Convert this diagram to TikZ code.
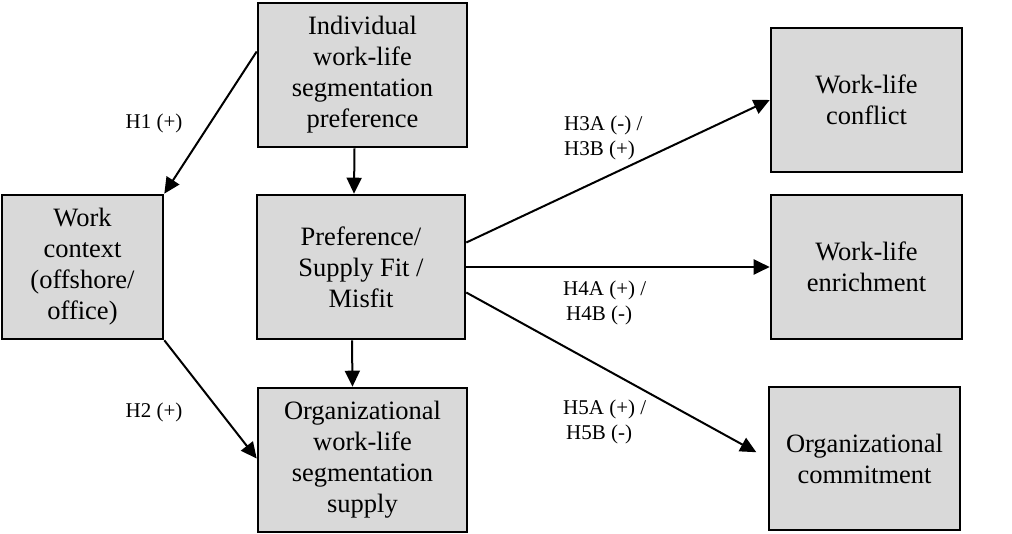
\documentclass[tikz,border=0pt]{standalone}
\usepackage{fontspec}
\setmainfont{Liberation Serif}
\usetikzlibrary{arrows.meta,calc}
\definecolor{boxgray}{HTML}{D9D9D9}
\tikzset{
  box/.style={draw=black, line width=2.6pt, fill=boxgray, align=center, inner sep=0pt,
    font=\fontsize{26.5}{31}\selectfont},
  conn/.style={line width=2pt, -{Triangle[length=16pt,width=15pt]}},
  lbl/.style={inner sep=0pt, align=left, font=\fontsize{21}{25}\selectfont}
}
\begin{document}
\begin{tikzpicture}[x=1pt,y=-1pt]
\useasboundingbox (0,0) rectangle (1012,534);
\node[box, minimum width=209pt, minimum height=144pt] (ind) at (362.5,75) {Individual\\work-life\\segmentation\\preference};
\node[box, minimum width=161pt, minimum height=144pt] (ctx) at (82.5,267) {Work\\context\\(offshore/\\office)};
\node[box, minimum width=208pt, minimum height=144pt] (pref) at (361,267) {Preference/\\Supply Fit /\\Misfit};
\node[box, minimum width=209pt, minimum height=144pt] (org) at (362.5,460) {Organizational\\work-life\\segmentation\\supply};
\node[box, minimum width=191pt, minimum height=144pt] (conf) at (866.5,100) {Work-life\\conflict};
\node[box, minimum width=191pt, minimum height=144pt] (enr) at (866.5,267) {Work-life\\enrichment};
\node[box, minimum width=191pt, minimum height=143pt] (com) at (864.5,458.5) {Organizational\\commitment};

\draw[conn] ($(ind.north west)!0.34!(ind.south west)$) -- (ctx.north east);
\draw[conn] (ctx.south east) -- ($(org.north west)!0.49!(org.south west)$);
\draw[conn] ([xshift=-8pt]ind.south) -- ([xshift=-7pt]pref.north);
\draw[conn] ([xshift=-9pt]pref.south) -- ([xshift=-10pt]org.north);
\draw[conn] ($(pref.north east)!0.333!(pref.south east)$) -- (conf.west);
\draw[conn] (pref.east) -- (enr.west);
\draw[conn, shorten >=13pt] ($(pref.north east)!0.674!(pref.south east)$) -- (com.west);

\node[lbl, anchor=center] (l1) at (154,123) {H1 (+)};
\node[lbl, anchor=center] (l2) at (154,412) {H2 (+)};
\node[lbl, anchor=west] (l3) at (564,137.5) {H3A (-) /\\H3B (+)};
\node[lbl, anchor=west] (l4) at (563,303) {H4A (+) /\\\hspace{3pt}H4B (-)};
\node[lbl, anchor=west] (l5) at (563,422) {H5A (+) /\\\hspace{3pt}H5B (-)};
\end{tikzpicture}
\end{document}
